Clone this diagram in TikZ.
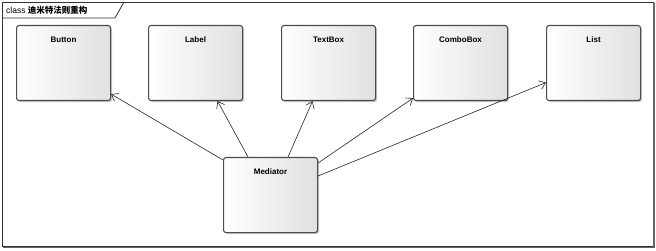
\documentclass[tikz,border=0pt]{standalone}
\usepackage{fontspec}
\setmainfont{Liberation Sans}
\newfontfamily\cjk{Noto Sans CJK SC}
\usetikzlibrary{arrows.meta,shadows}
\begin{document}
\begin{tikzpicture}[x=1pt,y=-1pt,
  classbox/.style={draw=black!70,line width=1.1pt,rounded corners=2.5pt,
    left color=white,right color=black!12,
    drop shadow={shadow xshift=1.5pt,shadow yshift=-1.5pt,fill=black!35,opacity=0.6},
    minimum width=94pt,minimum height=75pt,anchor=north west,inner sep=0pt},
  classname/.style={font=\bfseries\fontsize{8}{9.5}\selectfont,anchor=north},
  dep/.style={draw=black!85,line width=0.6pt,-{Straight Barb[length=6pt,width=9pt,line width=0.6pt]}}]
\useasboundingbox (0,0) rectangle (656,251);
\fill[white] (0,0) rectangle (656,251);
% diagram frame and its title tab
\draw[black!80,line width=0.8pt] (2,2) rectangle (653,246);
\draw[black!60,line width=1.2pt] (3,247.5) -- (654,247.5) -- (654,3);
\draw[black!80,line width=0.8pt] (2,18) -- (115,18) -- (124,2);
\node[anchor=west,inner sep=0pt,font=\fontsize{8.5}{10}\selectfont] (title) at (6,10.5)
  {class {\cjk\bfseries 迪米特法则重构}};
% classes
\node[classbox] (button) at (16,25) {};
\node[classbox] (label) at (148,25) {};
\node[classbox] (textbox) at (281,25) {};
\node[classbox] (combo) at (413,25) {};
\node[classbox] (list) at (546,25) {};
\node[classbox] (med) at (223,157) {};
\node[classname] (buttonname) at ([yshift=-8pt]button.north) {Button};
\node[classname] (labelname) at ([yshift=-8pt]label.north) {Label};
\node[classname] (textboxname) at ([yshift=-8pt]textbox.north) {TextBox};
\node[classname] (comboname) at ([yshift=-8pt]combo.north) {ComboBox};
\node[classname] (listname) at ([yshift=-8pt]list.north) {List};
\node[classname] (medname) at ([yshift=-8pt]med.north) {Mediator};
% dependencies from the mediator
\draw[dep] ([yshift=-3pt]med.north west) -- ([yshift=7pt]button.south east);
\draw[dep] ([xshift=25pt]med.north west) -- ([xshift=22pt]label.south);
\draw[dep] ([xshift=65pt]med.north west) -- ([xshift=-16pt]textbox.south);
\draw[dep] ([yshift=-6pt]med.north east) -- ([yshift=3pt]combo.south west);
\draw[dep] ([yshift=-19pt]med.north east) -- ([yshift=-19.5pt]list.west);
\end{tikzpicture}
\end{document}
